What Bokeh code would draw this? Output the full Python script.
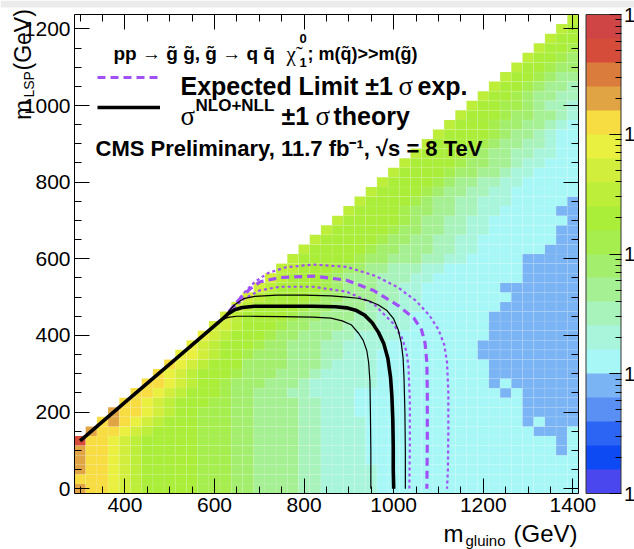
import math
from bokeh.plotting import figure
from bokeh.models import (ColumnDataSource, LogColorMapper, ColorBar, FixedTicker, LinearAxis,
                          Label, Legend, LegendItem, CustomJSTickFormatter, Range1d, BoxAnnotation)
from bokeh.transform import transform
from bokeh.embed import file_html
from bokeh.resources import INLINE

# ---------------- data ----------------
# bin centres (25 GeV bins)
gluino_bins = [300 + 25 * i for i in range(45)]      # 300 .. 1400 GeV
lsp_bins = [25 * j for j in range(50)]               # 0 .. 1225 GeV

# colour level of every cell (one string per m_LSP row, bottom row first, 45 gluino columns,
# grouped by 5 for readability); "." = empty cell, 0..j = colour band index of the z scale
LEVEL_CHARS = "0123456789abcdefghij"
LIMIT_ROWS = [
    "gffed cbbbb baaa9 98888 77666 66555 55555 55555 55555",
    "fffed cbbbb baaa9 98888 77666 66555 55555 55555 55555",
    "gffed cbbbb baaa9 98888 77666 66555 55555 55555 55555",
    "gffed cbbbb baaa9 98888 77666 65555 55555 55555 55555",
    "gffed cbbbb baaa9 98888 77666 65555 55555 55555 55545",
    "iffed cbbbb baaa9 98888 77666 65555 55555 55555 55545",
    ".gffe dcbbb baaa9 98888 77666 65555 55555 55555 54445",
    "..fgf edcbb baaa9 98888 77666 65555 55555 55555 45444",
    "...gf fedcb baaa9 98888 77666 55555 55555 55555 44444",
    "....f fedcb bbaa9 98888 77666 55555 55555 55555 44444",
    "..... ffedc bbba9 98887 76666 55555 55555 55545 44444",
    "..... .ffed cbba9 99888 76666 66555 55555 55454 44444",
    "..... ..fed cbbba 99988 87666 66555 55555 55444 44444",
    "..... ...fe dcbbb 99998 88766 66555 55555 55444 44444",
    "..... ....e edcbb a9998 88776 66555 55555 54444 44444",
    "..... ..... edcbb ba998 88776 66655 55555 54444 44444",
    "..... ..... .edcb bba99 88877 66665 55555 55444 44444",
    "..... ..... ..ddc bbba9 98887 77666 55555 55444 44444",
    "..... ..... ...dc bbbba 99888 77666 55555 55444 44444",
    "..... ..... ....d cbbbb a9988 87766 65555 55544 44444",
    "..... ..... ..... dcbbb ba998 88776 65555 55554 44444",
    "..... ..... ..... .dcbb bba98 88776 65555 55544 44444",
    "..... ..... ..... ..dcb bba98 88777 66555 55555 44444",
    "..... ..... ..... ...cc bbba9 98877 76655 55555 44444",
    "..... ..... ..... ....c bbbbb a9988 87766 55555 44444",
    "..... ..... ..... ..... cbbbb ba998 88776 65555 55444",
    "..... ..... ..... ..... .cbbb bba99 88776 65555 55544",
    "..... ..... ..... ..... ..cbb bbba9 98877 66555 55544",
    "..... ..... ..... ..... ...cb bbbba 98877 66555 55554",
    "..... ..... ..... ..... ....c bbbba 99887 76655 55544",
    "..... ..... ..... ..... ..... cbbbb a9887 76665 55554",
    "..... ..... ..... ..... ..... .cbbb ba988 77665 55555",
    "..... ..... ..... ..... ..... ..cbb bba98 87766 55555",
    "..... ..... ..... ..... ..... ...cb bbba9 98876 65555",
    "..... ..... ..... ..... ..... ....c bbbba 99887 66555",
    "..... ..... ..... ..... ..... ..... cbbbb a9887 76655",
    "..... ..... ..... ..... ..... ..... .cbbb ba988 77655",
    "..... ..... ..... ..... ..... ..... ..cbb bba98 87655",
    "..... ..... ..... ..... ..... ..... ...cb bba99 88765",
    "..... ..... ..... ..... ..... ..... ....c bbba9 98876",
    "..... ..... ..... ..... ..... ..... ..... cbbaa 98776",
    "..... ..... ..... ..... ..... ..... ..... .cbba 98877",
    "..... ..... ..... ..... ..... ..... ..... ..cbb a9887",
    "..... ..... ..... ..... ..... ..... ..... ...cb ba988",
    "..... ..... ..... ..... ..... ..... ..... ....c bba99",
    "..... ..... ..... ..... ..... ..... ..... ..... cbba9",
    "..... ..... ..... ..... ..... ..... ..... ..... .cbba",
    "..... ..... ..... ..... ..... ..... ..... ..... ..cbb",
    "..... ..... ..... ..... ..... ..... ..... ..... ...cb",
    "..... ..... ..... ..... ..... ..... ..... ..... ....c",
]

# z scale (95% CL cross-section upper limit, pb), 20 colour bands, log
Z_LOW, Z_HIGH = 1e-3, 10.0
PALETTE = ["#4a47ef", "#0d4af3", "#2c64f3", "#5a8ff3", "#7ab4f4",
           "#a8f7f7", "#a8f5dc", "#a8f2bc", "#a6f094", "#a4ee6e",
           "#a6ee4e", "#aaee3a", "#bcee3a", "#d2ee3c", "#eaf040",
           "#f7dc42", "#e0a444", "#d97c3c", "#d64c3a", "#cf4444"]
# colour-bar tick labels as visible in the picture (the image is cropped after the first digit)
CBAR_TICKS = [1e-3, 1e-2, 1e-1, 1, 10]
CBAR_LABELS = ["1", "1", "1", "1", "1"]

# contours (m_gluino, m_LSP) in GeV
obs_x = [300, 400, 500, 614, 630, 645, 662, 690, 750, 820, 870, 895, 915, 935, 952, 966, 978, 987, 993, 996, 998, 999, 999, 1000]
obs_y = [125, 225, 325, 439, 456, 467, 473, 476, 476, 476, 475, 472, 466, 453, 433, 408, 378, 340, 290, 240, 180, 110, 50, 0]
theo_up_x = [614, 628, 645, 665, 690, 740, 800, 860, 895, 920, 945, 965, 985, 1000, 1010, 1017, 1021, 1023, 1025, 1026, 1026]
theo_up_y = [439, 458, 480, 496, 502, 505, 505, 503, 500, 497, 490, 480, 465, 443, 415, 380, 340, 290, 200, 100, 0]
theo_dn_x = [614, 630, 650, 680, 750, 820, 860, 885, 905, 922, 932, 940, 944, 947, 948, 949, 949]
theo_dn_y = [439, 447, 450, 450, 449, 448, 445, 438, 428, 405, 387, 360, 330, 280, 200, 100, 0]
exp_x = [632, 645, 660, 680, 702, 746, 820, 895, 954, 1010, 1045, 1062, 1070, 1074, 1075, 1075, 1074]
exp_y = [462, 480, 500, 522, 540, 551, 555, 544, 518, 478, 445, 415, 380, 330, 250, 120, 0]
exp_dn_x = [632, 645, 665, 702, 746, 820, 895, 954, 999, 1018, 1028, 1033, 1036, 1036, 1035]
exp_dn_y = [462, 475, 495, 518, 527, 527, 514, 484, 431, 395, 360, 320, 230, 110, 0]
exp_up_x = [632, 648, 665, 690, 720, 760, 820, 895, 960, 1010, 1050, 1080, 1100, 1113, 1119, 1122, 1122, 1121, 1119]
exp_up_y = [462, 485, 510, 540, 563, 578, 585, 579, 555, 525, 490, 452, 415, 375, 330, 250, 150, 50, 0]

x_major = [400, 600, 800, 1000, 1200, 1400]
y_major = [0, 200, 400, 600, 800, 1000, 1200]

# ---------------- build cells ----------------
lo, hi = math.log10(Z_LOW), math.log10(Z_HIGH)
cx, cy, cz = [], [], []
for j, row in enumerate(LIMIT_ROWS):
    cells = row.replace(" ", "")
    assert len(cells) == len(gluino_bins), (j, len(cells))
    for i, ch in enumerate(cells):
        if ch == ".":
            continue
        lvl = LEVEL_CHARS.index(ch)
        cx.append(gluino_bins[i])
        cy.append(lsp_bins[j])
        cz.append(10 ** (lo + (lvl + 0.5) * (hi - lo) / len(PALETTE)))

# ---------------- geometry ----------------
W, H = 634, 549
HX0, HX1, HY0, HY1 = 287.5, 1412.5, -12.5, 1237.5   # histogram edges (GeV)
FL, FT, FW, FH = 74, 14, 504, 479                   # histogram box in canvas pixels
GX = (HX1 - HX0) / FW                               # GeV per pixel
GY = (HY1 - HY0) / FH


def dx(px):
    return HX0 + (px - FL) * GX


def dy(py):
    return HY1 - (py - FT) * GY


# the plot frame covers the whole canvas; axes are pinned to the histogram edges
p = figure(width=W, height=H, x_range=Range1d(dx(0), dx(W)), y_range=Range1d(dy(H), dy(0)),
           output_backend="svg", toolbar_location=None,
           x_axis_location=None, y_axis_location=None,
           min_border_left=0, min_border_right=0, min_border_top=0, min_border_bottom=0)
p.outline_line_color = None
p.background_fill_color = "white"
p.border_fill_color = "white"
p.grid.visible = False

# thin grey strip along the top edge of the picture
p.add_layout(BoxAnnotation(left=dx(0), right=dx(W), bottom=dy(7), top=dy(0),
                           fill_color="#ebebeb", fill_alpha=1, line_color=None, level="underlay"))

mapper = LogColorMapper(palette=PALETTE, low=Z_LOW, high=Z_HIGH)
src = ColumnDataSource(dict(x=cx, y=cy, xsec=cz))
p.rect(x="x", y="y", width=25, height=25, source=src,
       fill_color=transform("xsec", mapper), line_color="white", line_alpha=0.14, line_width=0.6)

PURPLE = "#a150f5"
p.line(exp_up_x, exp_up_y, line_color=PURPLE, line_width=2.2, line_dash="3 3")
p.line(exp_dn_x, exp_dn_y, line_color=PURPLE, line_width=2.2, line_dash="3 3")
r_exp = p.line(exp_x, exp_y, line_color=PURPLE, line_width=3.2, line_dash="8 5")
p.line(theo_up_x, theo_up_y, line_color="black", line_width=1.2)
p.line(theo_dn_x, theo_dn_y, line_color="black", line_width=1.2)
r_obs = p.line(obs_x, obs_y, line_color="black", line_width=3.6)


def make_axis(ticks, minor, labelled, loc, bounds):
    ax = LinearAxis(ticker=FixedTicker(ticks=ticks, minor_ticks=minor),
                    fixed_location=loc, bounds=bounds)
    ax.axis_line_color = "black"
    ax.major_tick_line_color = "black"
    ax.minor_tick_line_color = "black"
    ax.major_tick_in, ax.major_tick_out = 15, 0
    ax.minor_tick_in, ax.minor_tick_out = 7, 0
    if labelled:
        ax.major_label_text_font = "Liberation Sans"
        ax.major_label_text_font_size = "21px"
        ax.major_label_text_color = "black"
        ax.major_label_standoff = 4
    else:
        ax.formatter = CustomJSTickFormatter(code="return ''")
        ax.major_label_text_font_size = "1px"
        ax.major_label_standoff = 0
    return ax


x_minor = [300 + 50 * k for k in range(23)]
y_minor = [50 * k for k in range(25)]
p.add_layout(make_axis(x_major, x_minor, True, HY0, (HX0, HX1)), "below")
p.add_layout(make_axis(x_major, x_minor, False, HY1, (HX0, HX1)), "above")
p.add_layout(make_axis(y_major, y_minor, True, HX0, (HY0, HY1)), "left")
p.add_layout(make_axis(y_major, y_minor, False, HX1, (HY0, HY1)), "right")

legend = Legend(items=[LegendItem(label=" ", renderers=[r_exp]),
                       LegendItem(label=" ", renderers=[r_obs])],
                location=(97, H - 122), orientation="vertical",
                glyph_width=63, glyph_height=30, label_height=30, label_standoff=20,
                spacing=0, padding=0, margin=0, border_line_color=None, background_fill_alpha=0,
                label_text_font="Liberation Sans", label_text_font_size="24px")
p.add_layout(legend)

cb_fmt = CustomJSTickFormatter(args=dict(cb_vals=CBAR_TICKS, cb_labels=CBAR_LABELS), code="""
const lt = Math.log10(tick);
let best = 0;
for (let k = 0; k < cb_vals.length; k++) {
  if (Math.abs(Math.log10(cb_vals[k]) - lt) < Math.abs(Math.log10(cb_vals[best]) - lt)) { best = k; }
}
return cb_labels[best];
""")
cb_minor = [m * 10 ** e for e in (-3, -2, -1, 0) for m in range(2, 10)]
cbar = ColorBar(color_mapper=mapper, location=(FL + FW + 7.5, H - FT - FH), width=35, height=FH,
                padding=0, margin=0,
                ticker=FixedTicker(ticks=CBAR_TICKS, minor_ticks=cb_minor),
                formatter=cb_fmt,
                major_tick_in=12, major_tick_out=0, minor_tick_in=6, minor_tick_out=0,
                major_tick_line_color="black", minor_tick_line_color="black",
                bar_line_color="#333333", border_line_color=None, background_fill_alpha=0,
                label_standoff=3, major_label_text_font="Liberation Sans",
                major_label_text_font_size="20px", major_label_text_color="black")
p.add_layout(cbar)


def text(px, py, s, size, style="bold", font="Liberation Sans", angle=0.0):
    p.add_layout(Label(x=dx(px), y=dy(py), text=s, text_font=font, text_font_size=f"{size}px",
                       text_font_style=style, text_color="black", angle=angle,
                       text_align="left", text_baseline="alphabetic"))


# header texts
text(113, 53, "pp \u2192 g\u0303 g\u0303, g\u0303 \u2192 q q\u0304", 19)
text(286, 53, "\u03c7\u0303", 21, style="normal", font="Liberation Serif")
text(299, 38, "0", 13)
text(299, 62, "1", 13)
text(307, 53, "; m(q\u0303)>>m(g\u0303)", 18)
# legend texts
text(180, 85, "Expected Limit \u00b11", 25)
text(398, 85, "\u03c3", 27, style="normal", font="Liberation Serif")
text(417, 85, "exp.", 25)
text(180, 115, "\u03c3", 27, style="normal", font="Liberation Serif")
text(195, 105, "NLO+NLL", 17)
text(281, 115, "\u00b11", 25)
text(315, 115, "\u03c3", 27, style="normal", font="Liberation Serif")
text(333, 115, "theory", 25)
text(95, 148, "CMS Preliminary, 11.7 fb\u207b\u00b9, \u221as = 8 TeV", 22)

# axis titles
text(443, 533, "m", 24, style="normal")
text(465, 540, "gluino", 15, style="normal")
text(513, 533, "(GeV)", 24, style="normal")
text(22, 119.5, "m", 24, style="normal", angle=math.pi / 2)
text(28, 97, "LSP", 14, style="normal", angle=math.pi / 2)
text(22, 70, "(GeV)", 23, style="normal", angle=math.pi / 2)

with open("out.html", "w", encoding="utf-8") as f:
    f.write(file_html(p, INLINE))
